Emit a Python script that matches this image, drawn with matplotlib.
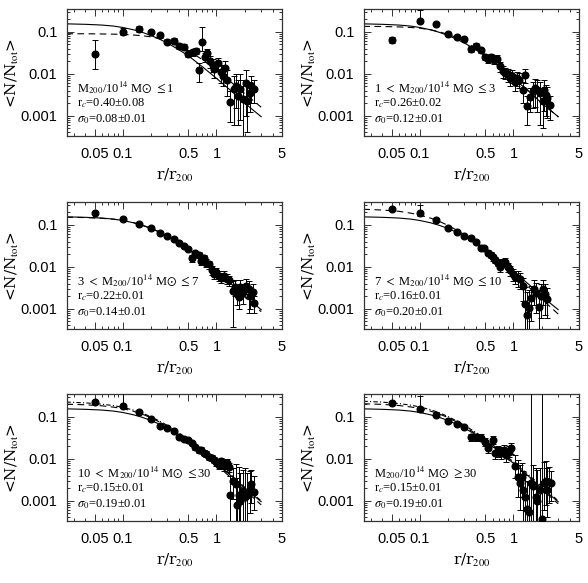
import matplotlib
matplotlib.use('Agg')
from matplotlib import pyplot as plt
from matplotlib.ticker import FixedLocator, NullFormatter
import numpy as np

# fonts: serif for labels (close to the PGPLOT roman), sans for tick numbers
plt.rcParams['font.family'] = 'serif'
plt.rcParams['font.serif'] = ['Liberation Serif', 'DejaVu Serif']
plt.rcParams['mathtext.fontset'] = 'stix'

# ---- data ----
# panel 1: M200 <= 1
p1_r = [0.05, 0.1, 0.15, 0.2, 0.25, 0.3, 0.35, 0.4, 0.45, 0.5, 0.556, 0.61, 0.645, 0.7, 0.75,
        0.8, 0.85, 0.91, 0.94, 1.05, 1.11, 1.17, 1.24, 1.3, 1.41, 1.52, 1.6, 1.7, 1.8, 1.9,
        2.05, 2.1, 2.25, 2.35, 2.5]
p1_y = [0.030, 0.10, 0.12, 0.10, 0.082, 0.057, 0.062, 0.046, 0.044, 0.030, 0.033, 0.035, 0.0122, 0.058, 0.025,
        0.031, 0.020, 0.016, 0.0127, 0.018, 0.011, 0.0088, 0.014, 0.0073, 0.0021, 0.0043, 0.0052, 0.003, 0.0044, 0.0025,
        0.006, 0.0022, 0.0035, 0.0052, 0.0043]
p1_lo = [0.0127, 0.082, 0.1, 0.088, 0.07, 0.05, 0.054, 0.038, 0.037, 0.025, 0.027, 0.029, 0.0065, 0.035, 0.019,
         0.024, 0.014, 0.011, 0.008, 0.012, 0.006, 0.005, 0.008, 0.003, 0.0007, 0.0006, 0.0015, 0.0006, 0.0008, 0.0003,
         0.001, 0.0004, 0.0012, 0.002, 0.002]
p1_hi = [0.063, 0.122, 0.14, 0.113, 0.095, 0.066, 0.07, 0.055, 0.052, 0.036, 0.04, 0.042, 0.018, 0.13, 0.032,
         0.04, 0.027, 0.022, 0.018, 0.024, 0.016, 0.013, 0.02, 0.012, 0.004, 0.009, 0.01, 0.007, 0.01, 0.007,
         0.012, 0.0065, 0.0065, 0.009, 0.007]

# panel 2: 1 < M200 <= 3
p2_r = [0.05, 0.1, 0.15, 0.2, 0.25, 0.3, 0.35, 0.4, 0.45, 0.5, 0.54, 0.58, 0.62, 0.67, 0.72,
        0.78, 0.82, 0.87, 0.92, 0.97, 1.03, 1.1, 1.15, 1.25, 1.32, 1.4, 1.5, 1.6, 1.7, 1.8,
        1.9, 2.05, 2.1, 2.2, 2.3, 2.45]
p2_y = [0.064, 0.185, 0.156, 0.087, 0.077, 0.066, 0.039, 0.047, 0.036, 0.025, 0.022, 0.025, 0.021, 0.023, 0.015,
        0.0115, 0.0107, 0.0098, 0.008, 0.009, 0.0064, 0.008, 0.0073, 0.0042, 0.0095, 0.0017, 0.0028, 0.0039, 0.0046, 0.0042,
        0.0035, 0.0023, 0.0042, 0.0032, 0.0027, 0.0018]
p2_lo = [0.055, 0.16, 0.145, 0.08, 0.071, 0.06, 0.034, 0.042, 0.032, 0.021, 0.018, 0.021, 0.017, 0.019, 0.011,
         0.008, 0.0075, 0.0065, 0.005, 0.006, 0.004, 0.005, 0.0045, 0.002, 0.006, 0.0006, 0.0012, 0.0015, 0.0016, 0.0012,
         0.0006, 0.0005, 0.0013, 0.001, 0.0009, 0.0008]
p2_hi = [0.075, 0.33, 0.168, 0.094, 0.083, 0.073, 0.045, 0.053, 0.041, 0.029, 0.027, 0.03, 0.026, 0.028, 0.019,
         0.015, 0.014, 0.013, 0.011, 0.012, 0.0095, 0.011, 0.0105, 0.0065, 0.013, 0.003, 0.0045, 0.0065, 0.0075, 0.007,
         0.0065, 0.0045, 0.007, 0.0055, 0.0048, 0.003]

# panel 3: 3 < M200 <= 7
p3_r = [0.05, 0.1, 0.15, 0.2, 0.25, 0.3, 0.35, 0.4, 0.45, 0.5, 0.55, 0.59, 0.645, 0.69, 0.74,
        0.78, 0.83, 0.89, 0.94, 1.0, 1.07, 1.13, 1.2, 1.29, 1.37, 1.5, 1.57, 1.65, 1.74, 1.8,
        1.94, 2.05, 2.2, 2.3, 2.45, 2.5]
p3_y = [0.19, 0.14, 0.107, 0.082, 0.065, 0.054, 0.047, 0.037, 0.032, 0.027, 0.016, 0.021, 0.019, 0.014, 0.016,
        0.0125, 0.0115, 0.0083, 0.0068, 0.0075, 0.0062, 0.0055, 0.0062, 0.0052, 0.0048, 0.0027, 0.0033, 0.0023, 0.0019, 0.0033,
        0.0025, 0.0035, 0.003, 0.002, 0.0025, 0.0014]
p3_lo = [0.18, 0.133, 0.102, 0.078, 0.062, 0.051, 0.044, 0.035, 0.030, 0.025, 0.013, 0.018, 0.016, 0.011, 0.013,
         0.01, 0.009, 0.0065, 0.0052, 0.0058, 0.0047, 0.0041, 0.0047, 0.0038, 0.0035, 0.00036, 0.002, 0.0012, 0.001, 0.0019,
         0.0013, 0.0022, 0.0008, 0.001, 0.0014, 0.0008]
p3_hi = [0.2, 0.147, 0.112, 0.086, 0.068, 0.057, 0.05, 0.039, 0.034, 0.029, 0.019, 0.024, 0.022, 0.017, 0.019,
         0.015, 0.014, 0.0102, 0.0085, 0.0093, 0.0078, 0.007, 0.0078, 0.0067, 0.0062, 0.0045, 0.0048, 0.0036, 0.003, 0.0048,
         0.0038, 0.005, 0.0045, 0.0032, 0.0038, 0.002]

# panel 4: 7 < M200 <= 10
p4_r = [0.05, 0.1, 0.15, 0.2, 0.25, 0.3, 0.35, 0.4, 0.45, 0.49, 0.53, 0.57, 0.6, 0.64, 0.68,
        0.72, 0.77, 0.81, 0.87, 0.92, 0.98, 1.04, 1.11, 1.17, 1.27, 1.33, 1.4, 1.46, 1.55, 1.65,
        1.75, 1.86, 1.95, 2.07, 2.18, 2.3]
p4_y = [0.24, 0.19, 0.132, 0.085, 0.069, 0.053, 0.048, 0.040, 0.0275, 0.0275, 0.0217, 0.019, 0.0167, 0.0144, 0.0126,
        0.010, 0.0123, 0.0133, 0.010, 0.0083, 0.0066, 0.0058, 0.0055, 0.005, 0.0035, 0.0013, 0.0007, 0.00106, 0.0018, 0.0029,
        0.0024, 0.0011, 0.002, 0.0029, 0.0022, 0.0017]
p4_lo = [0.225, 0.165, 0.122, 0.079, 0.064, 0.049, 0.044, 0.037, 0.025, 0.025, 0.019, 0.016, 0.014, 0.012, 0.0105,
         0.0075, 0.01, 0.011, 0.0075, 0.006, 0.0045, 0.0038, 0.0033, 0.003, 0.0015, 0.0003, 0.0003, 0.0003, 0.0005, 0.0012,
         0.0008, 0.0003, 0.0006, 0.0012, 0.0007, 0.0006]
p4_hi = [0.255, 0.3, 0.143, 0.091, 0.074, 0.057, 0.052, 0.043, 0.03, 0.03, 0.025, 0.022, 0.0195, 0.017, 0.015,
         0.0125, 0.015, 0.016, 0.0125, 0.0105, 0.0088, 0.008, 0.0078, 0.0072, 0.0055, 0.0033, 0.0025, 0.0028, 0.0035, 0.0048,
         0.0042, 0.0028, 0.0038, 0.0048, 0.004, 0.0032]

# panel 5: 10 < M200 <= 30
p5_r = [0.05, 0.1, 0.15, 0.2, 0.25, 0.3, 0.35, 0.4, 0.45, 0.5, 0.55, 0.59, 0.645, 0.69, 0.74,
        0.78, 0.83, 0.89, 0.94, 1.0, 1.07, 1.13, 1.2, 1.29, 1.35, 1.41, 1.5, 1.6, 1.65, 1.74,
        1.8, 1.94, 2.0, 2.1, 2.25, 2.35, 2.5]
p5_y = [0.22, 0.18, 0.127, 0.088, 0.06, 0.055, 0.045, 0.033, 0.030, 0.0275, 0.024, 0.019, 0.016, 0.0165, 0.014,
        0.013, 0.0112, 0.0106, 0.0095, 0.0083, 0.0073, 0.0088, 0.0066, 0.0079, 0.0063, 0.0014, 0.003, 0.0025, 0.0008, 0.0014,
        0.001, 0.0017, 0.0012, 0.0014, 0.0018, 0.0025, 0.0016]
p5_lo = [0.205, 0.16, 0.118, 0.082, 0.056, 0.051, 0.042, 0.030, 0.027, 0.025, 0.021, 0.0165, 0.0138, 0.014, 0.012,
         0.011, 0.0094, 0.0088, 0.0078, 0.0067, 0.0057, 0.007, 0.005, 0.0062, 0.0048, 0.0003, 0.0011, 0.0003, 0.0003, 0.0003,
         0.0003, 0.0003, 0.0003, 0.0003, 0.0005, 0.0009, 0.0006]
p5_hi = [0.235, 0.36, 0.137, 0.094, 0.064, 0.059, 0.048, 0.036, 0.033, 0.030, 0.027, 0.0215, 0.0185, 0.019, 0.016,
         0.015, 0.013, 0.0125, 0.0113, 0.01, 0.009, 0.0106, 0.0083, 0.0097, 0.0079, 0.004, 0.006, 0.0075, 0.0035, 0.0065,
         0.0045, 0.0055, 0.006, 0.0045, 0.005, 0.0055, 0.004]

# panel 6: M200 >= 30
p6_r = [0.05, 0.1, 0.15, 0.2, 0.25, 0.3, 0.35, 0.4, 0.45, 0.5, 0.54, 0.6, 0.64, 0.68, 0.74,
        0.79, 0.84, 0.89, 0.95, 1.04, 1.11, 1.17, 1.22, 1.27, 1.32, 1.38, 1.46, 1.53, 1.62, 1.72,
        1.8, 1.9, 2.0, 2.1, 2.2, 2.3, 2.4, 2.5]
p6_y = [0.21, 0.155, 0.113, 0.08, 0.067, 0.056, 0.033, 0.033, 0.032, 0.025, 0.0177, 0.028, 0.014, 0.015, 0.014,
        0.016, 0.012, 0.0148, 0.018, 0.0066, 0.0036, 0.0026, 0.0036, 0.0018, 0.0012, 0.00063, 0.00055, 0.0026, 0.0022, 0.0012,
        0.001, 0.0018, 0.00037, 0.0026, 0.003, 0.0018, 0.0028, 0.0026]
p6_lo = [0.195, 0.13, 0.104, 0.073, 0.06, 0.05, 0.027, 0.027, 0.026, 0.02, 0.0135, 0.022, 0.01, 0.011, 0.01,
         0.012, 0.0085, 0.011, 0.013, 0.0035, 0.0012, 0.0006, 0.0012, 0.0003, 0.0003, 0.0003, 0.0003, 0.0003, 0.0003, 0.0003,
         0.0003, 0.0003, 0.0003, 0.0006, 0.0008, 0.0004, 0.0009, 0.001]
p6_hi = [0.23, 0.32, 0.123, 0.088, 0.075, 0.063, 0.04, 0.04, 0.039, 0.031, 0.023, 0.035, 0.019, 0.02, 0.019,
         0.021, 0.017, 0.02, 0.024, 0.012, 0.0095, 0.007, 0.008, 0.005, 0.0042, 0.003, 0.0028, 0.4, 0.007, 0.006,
         0.0055, 0.006, 0.4, 0.0085, 0.009, 0.006, 0.0065, 0.005]

# fitted profiles, read at these radii
curve_r = [0.025, 0.04, 0.06, 0.08, 0.1, 0.13, 0.16, 0.2, 0.25, 0.3, 0.4, 0.5, 0.7, 1.0, 1.5, 2.0, 3.0]
solid_y = [0.155, 0.151, 0.145, 0.137, 0.127, 0.112, 0.098, 0.082, 0.066, 0.054, 0.037, 0.027, 0.015, 0.0078, 0.0036, 0.002, 0.00095]
dash1_y = [0.09, 0.09, 0.089, 0.088, 0.087, 0.084, 0.081, 0.076, 0.069, 0.061, 0.046, 0.036, 0.022, 0.012, 0.0058, 0.0034, 0.0016]
dash2_y = [0.135, 0.134, 0.131, 0.127, 0.122, 0.112, 0.101, 0.087, 0.072, 0.059, 0.04, 0.028, 0.0155, 0.008, 0.0037, 0.002, 0.00095]
dash3_y = [0.152, 0.149, 0.143, 0.136, 0.127, 0.113, 0.099, 0.083, 0.067, 0.054, 0.036, 0.026, 0.0145, 0.0075, 0.0034, 0.0019, 0.00085]
dash4_y = [0.235, 0.225, 0.21, 0.19, 0.172, 0.145, 0.122, 0.097, 0.074, 0.058, 0.037, 0.026, 0.0138, 0.007, 0.0031, 0.0017, 0.00075]
dash5_y = [0.2, 0.194, 0.183, 0.17, 0.157, 0.136, 0.117, 0.095, 0.074, 0.058, 0.038, 0.027, 0.0145, 0.0072, 0.0032, 0.0018, 0.0008]
dot5_y = [0.225, 0.215, 0.2, 0.185, 0.168, 0.145, 0.124, 0.1, 0.078, 0.062, 0.041, 0.029, 0.016, 0.0082, 0.0038, 0.0021, 0.001]
dash6_y = [0.205, 0.198, 0.186, 0.172, 0.158, 0.137, 0.118, 0.096, 0.075, 0.059, 0.039, 0.028, 0.015, 0.0075, 0.0034, 0.0019, 0.00085]
dot6_y = [0.235, 0.224, 0.207, 0.19, 0.172, 0.148, 0.126, 0.102, 0.079, 0.063, 0.042, 0.03, 0.0163, 0.0084, 0.0039, 0.0022, 0.001]

mass_labels = [r'M$_{200}$/10$^{14}$ M$\odot$ $\leq$1',
               r'1 $<$ M$_{200}$/10$^{14}$ M$\odot$ $\leq$3',
               r'3 $<$ M$_{200}$/10$^{14}$ M$\odot$ $\leq$7',
               r'7 $<$ M$_{200}$/10$^{14}$ M$\odot$ $\leq$10',
               r'10 $<$ M$_{200}$/10$^{14}$ M$\odot$ $\leq$30',
               r'M$_{200}$/10$^{14}$ M$\odot$ $\geq$30']
rc_labels = ['0.40±0.08', '0.26±0.02', '0.22±0.01', '0.16±0.01', '0.15±0.01', '0.15±0.01']
s0_labels = ['0.08±0.01', '0.12±0.01', '0.14±0.01', '0.20±0.01', '0.19±0.01', '0.19±0.01']

xticks = [0.05, 0.1, 0.5, 1, 5]
xtick_labels = ['0.05', '0.1', '0.5', '1', '5']
yticks = [0.001, 0.01, 0.1]
ytick_labels = ['0.001', '0.01', '0.1']

panels = [
    (p1_r, p1_y, p1_lo, p1_hi, [dash1_y], []),
    (p2_r, p2_y, p2_lo, p2_hi, [dash2_y], []),
    (p3_r, p3_y, p3_lo, p3_hi, [dash3_y], []),
    (p4_r, p4_y, p4_lo, p4_hi, [dash4_y], []),
    (p5_r, p5_y, p5_lo, p5_hi, [dash5_y], [dot5_y]),
    (p6_r, p6_y, p6_lo, p6_hi, [dash6_y], [dot6_y]),
]

W, H = 588, 583
fig = plt.figure(figsize=(W / 100, H / 100), dpi=100)

col_x = [67, 364]
ax_w = 215
row_y = [9, 202, 394]  # top edges (px)
ax_h = 127

xminor = [0.03, 0.04, 0.06, 0.07, 0.08, 0.09, 0.2, 0.3, 0.4, 0.6, 0.7, 0.8, 0.9, 2, 3, 4]
yminor = [m * 10.0 ** e for e in (-4, -3, -2, -1) for m in range(2, 10)]

for i, (r, y, lo, hi, dashes, dots) in enumerate(panels):
    row, col = divmod(i, 2)
    left = col_x[col] / W
    bottom = 1 - (row_y[row] + ax_h) / H
    ax = fig.add_axes([left, bottom, ax_w / W, ax_h / H])
    ax.set_xscale('log')
    ax.set_yscale('log')
    ax.set_xlim(0.0254, 5)
    ax.set_ylim(3.3e-4, 0.35)

    # model curves
    ax.plot(curve_r, solid_y, color='black', lw=0.8, zorder=2)
    for d in dashes:
        ax.plot(curve_r, d, color='black', lw=0.8, ls=(0, (6, 4)), zorder=2)
    for d in dots:
        ax.plot(curve_r, d, color='black', lw=0.8, ls=(0, (4, 2, 1, 2)), zorder=2)

    # data with error bars
    y = np.array(y)
    yerr = [y - np.array(lo), np.array(hi) - y]
    ax.errorbar(r, y, yerr=yerr, fmt='o', color='black', ms=4.8, mec='black',
                elinewidth=0.7, capsize=2.2, capthick=0.7, zorder=3)

    # ticks
    ax.xaxis.set_major_locator(FixedLocator(xticks))
    ax.xaxis.set_minor_locator(FixedLocator(xminor))
    ax.set_xticklabels(xtick_labels)
    ax.xaxis.set_minor_formatter(NullFormatter())
    ax.yaxis.set_major_locator(FixedLocator(yticks))
    ax.yaxis.set_minor_locator(FixedLocator(yminor))
    ax.set_yticklabels(ytick_labels)
    ax.yaxis.set_minor_formatter(NullFormatter())
    ax.tick_params(which='both', direction='in', top=True, right=True, width=0.7, color='#333333')
    ax.tick_params(which='major', length=5)
    ax.tick_params(which='minor', length=2.5)
    ax.tick_params(axis='x', which='major', pad=8, labelsize=10.5)
    ax.tick_params(axis='y', which='major', pad=7, labelsize=10.5)
    for lab in ax.get_xticklabels() + ax.get_yticklabels():
        lab.set_fontfamily('Liberation Sans')
    for sp in ax.spines.values():
        sp.set_linewidth(0.9)
        sp.set_color('#333333')

    # axis titles in a wider serif, like the original plotting package
    ax.set_xlabel(r'r/r$_{200}$', fontsize=11, fontfamily='DejaVu Serif')
    ax.xaxis.set_label_coords(0.5, -0.24)
    ax.set_ylabel(r'<N/N$_{\rm tot}$>', fontsize=11, fontfamily='DejaVu Serif')
    ax.yaxis.set_label_coords(-0.215, 0.5)

    # fit annotations
    ax.text(0.046, 0.385, mass_labels[i], transform=ax.transAxes, fontsize=9, va='center')
    ax.text(0.046, 0.26, r'r$_c$=' + rc_labels[i], transform=ax.transAxes, fontsize=9, va='center')
    ax.text(0.046, 0.135, r'$\sigma_0$=' + s0_labels[i], transform=ax.transAxes, fontsize=9, va='center')

plt.savefig('out.png', dpi=100)
plt.close()
